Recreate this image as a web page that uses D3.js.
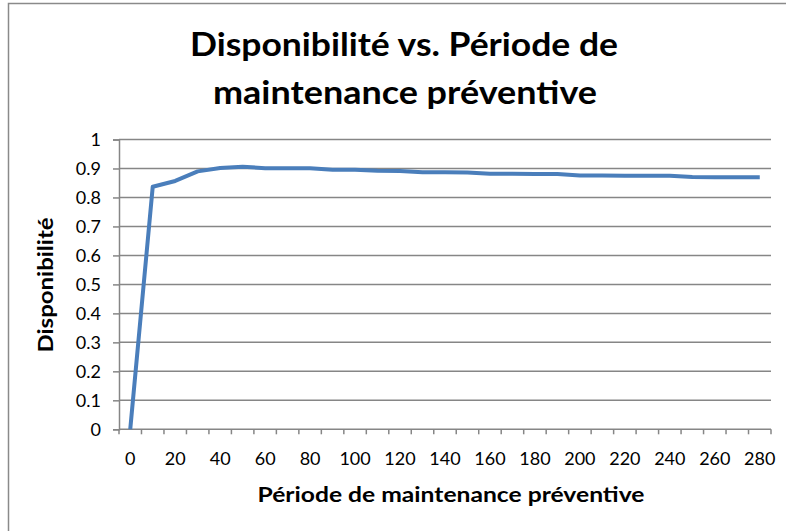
<!DOCTYPE html>
<html>
<head>
<meta charset="utf-8">
<script src="https://cdn.jsdelivr.net/npm/d3@7/dist/d3.min.js"></script>
<style>
  html, body { margin: 0; padding: 0; background: #fff; }
  svg { display: block; }
  text { font-family: Lato, "Open Sans", sans-serif; fill: #000; }
</style>
</head>
<body>
<svg id="chart" width="786" height="531"></svg>
<script>
// ---- data ----
const categories = [0,10,20,30,40,50,60,70,80,90,100,110,120,130,140,150,160,170,180,190,200,210,220,230,240,250,260,270,280];
const disponibilite = [0,0.837,0.857,0.890,0.902,0.906,0.901,0.901,0.901,0.896,0.896,0.892,0.891,0.887,0.887,0.886,0.882,0.882,0.881,0.881,0.876,0.876,0.875,0.875,0.875,0.871,0.870,0.870,0.870];
const xTickLabels = [0,20,40,60,80,100,120,140,160,180,200,220,240,260,280];
const yTicks = [0,0.1,0.2,0.3,0.4,0.5,0.6,0.7,0.8,0.9,1];
const titleLines = ["Disponibilité vs. Période de", "maintenance préventive"];
const xTitle = "Période de maintenance préventive";
const yTitle = "Disponibilité";

(function () {
const svg = d3.select("#chart");

// chart border
svg.append("rect").attr("x", 8.5).attr("y", 3.5).attr("width", 900).attr("height", 700)
  .attr("fill", "#fff").attr("stroke", "#8a8a8a").attr("stroke-width", 1.5);

const pLeft = 119, pRight = 771, pTop = 139.5, pBottom = 429.3;

const x = d3.scaleBand().domain(categories).range([pLeft, pRight]).paddingInner(0).paddingOuter(0);
const y = d3.scaleLinear().domain([0, 1]).range([pBottom, pTop]);

// gridlines
svg.append("g").selectAll("line").data(yTicks.slice(1)).join("line")
  .attr("x1", pLeft).attr("x2", pRight)
  .attr("y1", d => y(d)).attr("y2", d => y(d))
  .attr("stroke", "#868686").attr("stroke-width", 1.5);

// y axis
const yAxis = d3.axisLeft(y).tickValues(yTicks).tickSize(6).tickPadding(12)
  .tickFormat(d => String(+d.toFixed(1)));
const gy = svg.append("g").attr("transform", `translate(${pLeft},0)`).call(yAxis);
gy.select(".domain").attr("stroke", "#868686").attr("stroke-width", 1.5);
gy.selectAll(".tick line").attr("stroke", "#868686").attr("stroke-width", 1.5);
gy.selectAll(".tick text").attr("font-size", 18).attr("font-family", "Lato").attr("fill", "#000").attr("dy", "0.35em");

// x axis: ticks at category boundaries
const boundaries = categories.map(c => x(c)).concat([x(categories[categories.length-1]) + x.bandwidth()]);
const gx = svg.append("g");
gx.append("line").attr("x1", pLeft).attr("x2", pRight).attr("y1", pBottom).attr("y2", pBottom)
  .attr("stroke", "#868686").attr("stroke-width", 1.5);
gx.selectAll("line.tk").data(boundaries).join("line").attr("class", "tk")
  .attr("x1", d => d).attr("x2", d => d).attr("y1", pBottom).attr("y2", pBottom + 5)
  .attr("stroke", "#868686").attr("stroke-width", 1.5);
gx.selectAll("text").data(xTickLabels).join("text")
  .attr("x", d => x(d) + x.bandwidth() / 2)
  .attr("y", 465)
  .attr("text-anchor", "middle").attr("font-size", 18)
  .text(d => d);

// line
const line = d3.line()
  .x((d, i) => x(categories[i]) + x.bandwidth() / 2)
  .y(d => y(d));
svg.append("path").datum(disponibilite)
  .attr("d", line).attr("fill", "none")
  .attr("stroke", "#4a7ebb").attr("stroke-width", 4)
  .attr("stroke-linejoin", "round").attr("stroke-linecap", "butt");

// titles
svg.append("text").attr("x", 404).attr("y", 56).attr("text-anchor", "middle")
  .attr("font-size", 33).attr("font-weight", "bold")
  .attr("textLength", 428).attr("lengthAdjust", "spacingAndGlyphs")
  .text(titleLines[0]);
svg.append("text").attr("x", 405).attr("y", 104).attr("text-anchor", "middle")
  .attr("font-size", 33).attr("font-weight", "bold")
  .attr("textLength", 384).attr("lengthAdjust", "spacingAndGlyphs")
  .text(titleLines[1]);

svg.append("text").attr("x", 451).attr("y", 502).attr("text-anchor", "middle")
  .attr("font-size", 20).attr("font-weight", "bold")
  .attr("textLength", 387).attr("lengthAdjust", "spacingAndGlyphs")
  .text(xTitle);

svg.append("text").attr("transform", "translate(53,285) rotate(-90)")
  .attr("text-anchor", "middle")
  .attr("font-size", 20).attr("font-weight", "bold")
  .attr("textLength", 135).attr("lengthAdjust", "spacingAndGlyphs")
  .text(yTitle);
})();
</script>
</body>
</html>
